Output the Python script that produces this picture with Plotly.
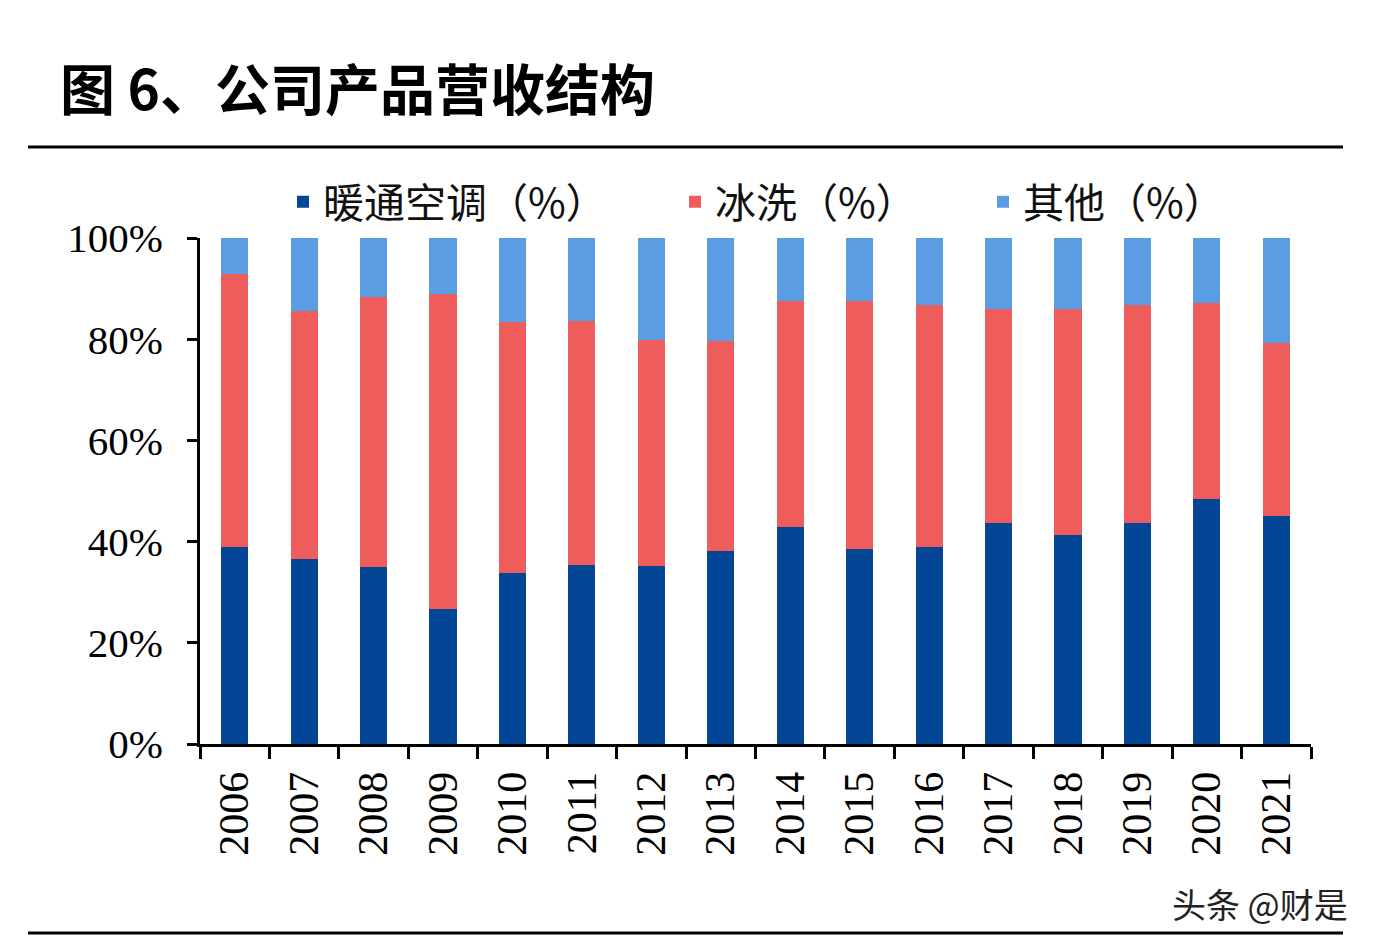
import plotly.graph_objects as go

years = ["2006", "2007", "2008", "2009", "2010", "2011", "2012", "2013",
         "2014", "2015", "2016", "2017", "2018", "2019", "2020", "2021"]
hvac = [38.9, 36.6, 35.0, 26.7, 33.8, 35.4, 35.2, 38.1,
        42.9, 38.5, 38.9, 43.7, 41.3, 43.7, 48.4, 45.1]
fridge_wash = [54.0, 49.0, 53.3, 62.2, 49.6, 48.2, 44.6, 41.5,
               44.6, 49.0, 47.9, 42.3, 44.7, 43.1, 38.8, 34.1]
others = [7.1, 14.4, 11.7, 11.1, 16.6, 16.4, 20.2, 20.4,
          12.5, 12.5, 13.2, 14.0, 14.0, 13.2, 12.8, 20.8]
names = ["暖通空调（%）", "冰洗（%）", "其他（%）"]
colors = ["#024695", "#EE5C5C", "#5B9DE3"]
title_text = "图 6、公司产品营收结构"
watermark = "头条 @财是"

W, H = 1378, 950
OFF = 8  # page body margin offset
# target plot area in page pixels: x 200..1311, y 238..744
L = 200 - OFF
R = W - (1311 - OFF)
T = 238 - OFF
B = H - (744 - OFF)
pw, ph = W - L - R, H - T - B


def px_x(x):
    return (x - OFF - L) / pw


def px_y(y):
    return (H - B - (y - OFF)) / ph


fig = go.Figure()
series = [hvac, fridge_wash, others]
legend_ids = ["legend", "legend2", "legend3"]
for vals, nm, col, lg in zip(series, names, colors, legend_ids):
    fig.add_trace(go.Bar(x=years, y=vals, name=nm, legend=lg,
                         marker=dict(color=col, line=dict(width=0))))

legend_font = dict(family="Noto Sans CJK SC", size=41, color="#111111")
legend_common = dict(orientation="h", yanchor="middle", xanchor="left",
                     y=px_y(202), bgcolor="rgba(0,0,0,0)", borderwidth=0,
                     font=legend_font)

fig.update_layout(
    width=W, height=H,
    margin=dict(l=L, r=R, t=T, b=B, pad=0),
    paper_bgcolor="white", plot_bgcolor="white",
    barmode="stack", bargap=0.61,
    showlegend=True,
    legend=dict(x=px_x(283), **legend_common),
    legend2=dict(x=px_x(675), **legend_common),
    legend3=dict(x=px_x(983), **legend_common),
    xaxis=dict(type="category", showline=True, linecolor="black", linewidth=3,
               ticks="outside", tickson="boundaries", ticklen=12, tickwidth=3,
               tickcolor="black", tickangle=-90, showgrid=False,
               ticklabelstandoff=8,
               tickfont=dict(family="Liberation Serif", size=42, color="black")),
    yaxis=dict(range=[0, 100], dtick=20, ticksuffix="%", showline=True,
               linecolor="black", linewidth=3, ticks="outside", ticklen=10,
               tickwidth=3, tickcolor="black", showgrid=False, zeroline=False,
               ticklabelstandoff=16,
               tickfont=dict(family="Liberation Serif", size=41, color="black")),
)

fig.add_annotation(text="<b>" + title_text + "</b>", xref="paper", yref="paper",
                   x=px_x(58), y=px_y(86), xanchor="left", yanchor="middle",
                   showarrow=False,
                   font=dict(family="Noto Sans CJK SC", size=55, color="black"))
fig.add_annotation(text=watermark, xref="paper", yref="paper",
                   x=px_x(1350), y=px_y(903), xanchor="right", yanchor="middle",
                   showarrow=False,
                   font=dict(family="Noto Sans CJK SC", size=34, color="#222222"))

for yy in (147, 933):
    fig.add_shape(type="line", xref="paper", yref="paper",
                  x0=px_x(28), x1=px_x(1343), y0=px_y(yy), y1=px_y(yy),
                  line=dict(color="black", width=3))

fig.write_html("out.html")
